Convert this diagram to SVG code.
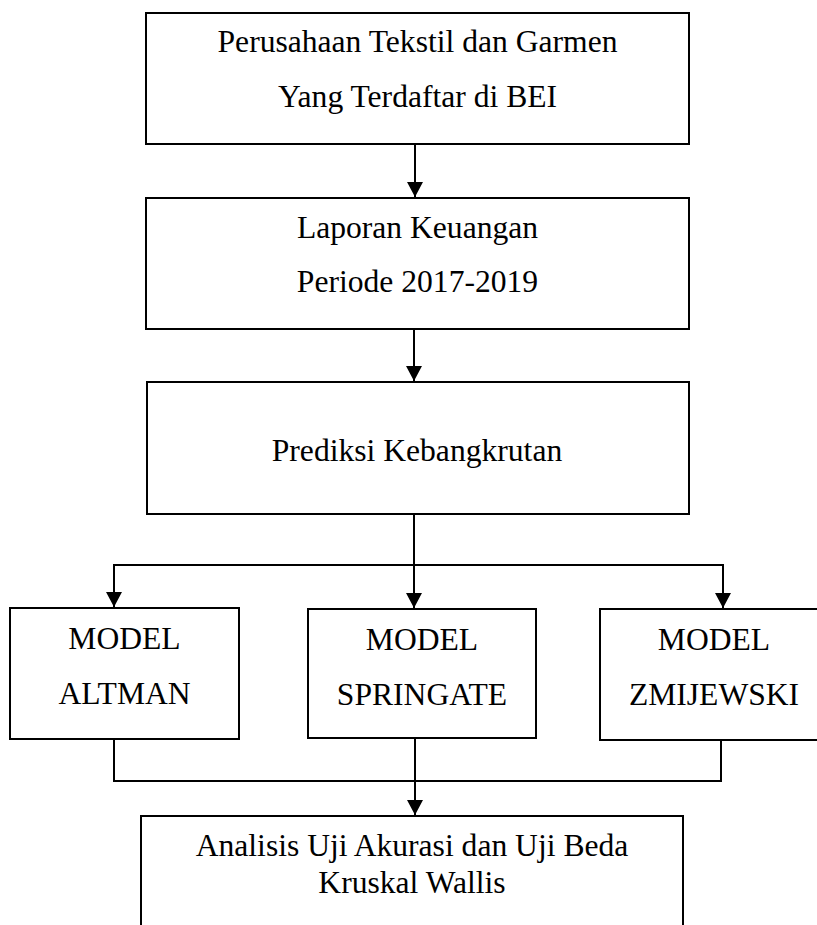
<svg xmlns="http://www.w3.org/2000/svg" width="817" height="925" viewBox="0 0 817 925">
  <style>
    .box { fill: #ffffff; stroke: #000000; stroke-width: 2; }
    .lbl { font-family: "Liberation Serif", "Times New Roman", serif; font-size: 31.6px; fill: #000000; text-anchor: middle; }
    .ln { fill: none; stroke: #000000; stroke-width: 2; }
  </style>
  <defs>
    <marker id="ah" markerUnits="userSpaceOnUse" markerWidth="15" markerHeight="16" viewBox="0 0 15 16" refX="15" refY="8" orient="auto">
      <path d="M0,0 L15,8 L0,16 z" fill="#000000"/>
    </marker>
  </defs>
  <rect width="817" height="925" fill="#ffffff"/>

  <g id="connectors">
    <line class="ln" x1="415" y1="144" x2="415" y2="197" marker-end="url(#ah)"/>
    <line class="ln" x1="414" y1="329" x2="414" y2="381" marker-end="url(#ah)"/>
    <polyline class="ln" points="414,514 414,565"/>
    <line class="ln" x1="113" y1="565" x2="724" y2="565"/>
    <line class="ln" x1="114" y1="565" x2="114" y2="607" marker-end="url(#ah)"/>
    <line class="ln" x1="414" y1="565" x2="414" y2="608" marker-end="url(#ah)"/>
    <line class="ln" x1="723" y1="565" x2="723" y2="608" marker-end="url(#ah)"/>
    <line class="ln" x1="114" y1="739" x2="114" y2="782"/>
    <line class="ln" x1="721" y1="740" x2="721" y2="782"/>
    <line class="ln" x1="113" y1="781" x2="722" y2="781"/>
    <line class="ln" x1="415" y1="738" x2="415" y2="815" marker-end="url(#ah)"/>
  </g>

  <g id="n1">
    <rect class="box" x="146" y="13" width="543" height="131"/>
    <text class="lbl" x="417.5" y="52">Perusahaan Tekstil dan Garmen</text>
    <text class="lbl" x="417.5" y="107">Yang Terdaftar di BEI</text>
  </g>
  <g id="n2">
    <rect class="box" x="146" y="198" width="543" height="131"/>
    <text class="lbl" x="417.5" y="238">Laporan Keuangan</text>
    <text class="lbl" x="417.5" y="292">Periode 2017-2019</text>
  </g>
  <g id="n3">
    <rect class="box" x="147" y="382" width="542" height="132"/>
    <text class="lbl" x="417" y="461">Prediksi Kebangkrutan</text>
  </g>
  <g id="n4">
    <rect class="box" x="10" y="608" width="229" height="131"/>
    <text class="lbl" x="124.5" y="649">MODEL</text>
    <text class="lbl" x="124.5" y="704">ALTMAN</text>
  </g>
  <g id="n5">
    <rect class="box" x="308" y="609" width="228" height="129"/>
    <text class="lbl" x="422" y="650">MODEL</text>
    <text class="lbl" x="422" y="705">SPRINGATE</text>
  </g>
  <g id="n6">
    <rect class="box" x="600" y="609" width="228" height="131"/>
    <text class="lbl" x="714" y="650">MODEL</text>
    <text class="lbl" x="714" y="705">ZMIJEWSKI</text>
  </g>
  <g id="n7">
    <rect class="box" x="141" y="816" width="542" height="140"/>
    <text class="lbl" x="412" y="856">Analisis Uji Akurasi dan Uji Beda</text>
    <text class="lbl" x="412" y="893">Kruskal Wallis</text>
  </g>
</svg>
